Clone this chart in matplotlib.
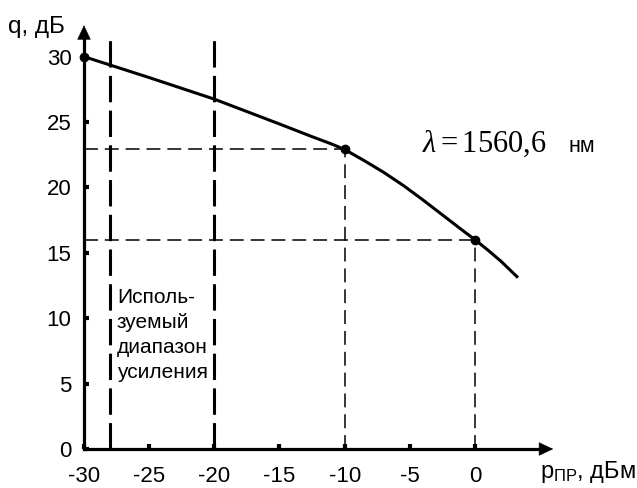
import matplotlib
matplotlib.use("Agg")
import matplotlib.pyplot as plt

plt.rcParams['font.family'] = ['Liberation Sans', 'DejaVu Sans']
plt.rcParams['axes.unicode_minus'] = False
plt.rcParams['lines.scale_dashes'] = False
plt.rcParams['mathtext.fontset'] = 'custom'
plt.rcParams['mathtext.rm'] = 'Liberation Serif'
plt.rcParams['mathtext.it'] = 'Liberation Serif:italic'
plt.rcParams['mathtext.sf'] = 'Liberation Sans'

# Кривая q(p_пр)
p_curve = [-30, -25, -20, -15, -12.5, -11, -10, -8.5, -7, -5.5, -4, -2.5,
           -1, 0, 1, 2, 3.3]
q_curve = [30.0, 28.4, 26.75, 24.85, 23.88, 23.32, 22.9, 22.05, 21.15,
           20.15, 19.05, 17.9, 16.75, 16.0, 15.2, 14.35, 13.1]

# Отмеченные точки
p_marked = [-30, -10, 0]
q_marked = [30.0, 22.9, 16.0]

# Границы используемого диапазона усиления
p_range = [-28, -20]
range_top = 31.3

x_ticks = [-30, -25, -20, -15, -10, -5, 0]
y_ticks = [0, 5, 10, 15, 20, 25, 30]

fig = plt.figure(figsize=(6.37, 4.88), dpi=100)
ax = fig.add_axes([0, 0, 1, 1])
ax.set_xlim(-36.445, 12.43)
ax.set_ylim(-2.98, 34.33)

# оси со стрелками
for side in ['top', 'right']:
    ax.spines[side].set_visible(False)
ax.spines['left'].set_position(('data', -30))
ax.spines['bottom'].set_position(('data', 0))
ax.spines['left'].set_bounds(0, 31.6)
ax.spines['bottom'].set_bounds(-30, 5.2)
ax.spines['left'].set_linewidth(2.3)
ax.spines['bottom'].set_linewidth(2.3)
arrow = dict(arrowstyle='-|>,head_length=0.95,head_width=0.45',
             color='k', lw=0.5, mutation_scale=10, shrinkA=0, shrinkB=0)
ax.annotate('', xy=(-30, 32.4), xytext=(-30, 31.0), arrowprops=arrow)
ax.annotate('', xy=(6.0, 0), xytext=(4.8, 0), arrowprops=arrow)

ax.set_xticks(x_ticks)
ax.set_yticks(y_ticks)
ax.set_xticklabels([str(v) for v in x_ticks])
ax.set_yticklabels([str(v) for v in y_ticks])
ax.tick_params(direction='in', length=3.6, width=3, labelsize=16, colors='k')
ax.tick_params(axis='x', pad=12)
ax.tick_params(axis='y', pad=9)

# вертикальные границы диапазона
for p in p_range:
    ax.plot([p, p], [0, range_top], color='k', lw=2.2, dashes=(19, 6))

# проекции точек на оси
for p, q in zip(p_marked[1:], q_marked[1:]):
    ax.plot([-30, p], [q, q], color='k', lw=1.1, dashes=(10, 5))
    ax.plot([p, p], [0, q], color='k', lw=1.1, dashes=(10, 5))

ax.plot(p_curve, q_curve, color='k', lw=2.2, solid_joinstyle='round',
        solid_capstyle='butt')
ax.plot(p_marked, q_marked, 'o', color='k', ms=6, clip_on=False)

ax.text(-27.47, 12.3, 'Исполь-\nзуемый\nдиапазон\nусиления',
        fontsize=15, ha='left', va='top', linespacing=1.4)

ax.text(-4.07, 22.7, r'$\lambda = \mathrm{1560{,}6}$', fontsize=22,
        ha='left', va='baseline')
ax.text(7.14, 22.7, 'нм', fontsize=15.5, ha='left', va='baseline')

ax.text(-35.83, 31.8, 'q, дБ', fontsize=17.5, ha='left', va='baseline')
ax.text(4.99, -2.22, r'p$_{\mathsf{ПР}}$, дБм', fontsize=17,
        ha='left', va='baseline')

fig.savefig('out.png', dpi=100)
